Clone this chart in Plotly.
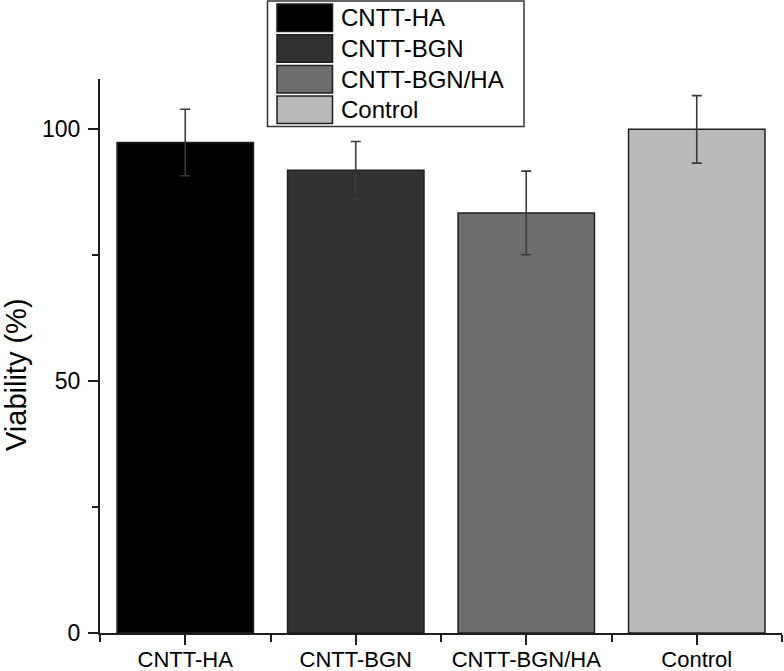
import plotly.graph_objects as go

categories = ["CNTT-HA", "CNTT-BGN", "CNTT-BGN/HA", "Control"]
viability = [97.4, 91.9, 83.4, 100.0]
errors = [6.6, 5.7, 8.3, 6.7]
colors = ["#000000", "#323232", "#6e6e6e", "#b9b9b9"]
y_ticks = [0, 50, 100]

W, H = 784, 671
L, R, T, B = 100, 2, 79, 38
PW, PH = W - L - R, H - T - B
FONT = "Liberation Sans, Arial, sans-serif"


def px(x):
    return (x - L) / PW


def py(y):
    return (H - B - y) / PH


fig = go.Figure()
for i, (cat, v, e, c) in enumerate(zip(categories, viability, errors, colors)):
    fig.add_trace(go.Bar(
        x=[i], y=[v], name=cat, width=0.8,
        marker=dict(color=c, line=dict(color="#1e1e1e", width=1.5)),
        error_y=dict(type="data", array=[e], visible=True, color="#3a3a3a",
                     thickness=1.6, width=5),
        showlegend=False,
    ))

shapes = []
annotations = []
# manual legend box
shapes.append(dict(type="rect", xref="paper", yref="paper",
                   x0=px(267.5), x1=px(524), y0=py(126.5), y1=py(1),
                   line=dict(color="#333333", width=1.5), fillcolor="white"))
row_top = 4
pitch = 30.7
for i, (cat, c) in enumerate(zip(categories, colors)):
    y0 = row_top + i * pitch
    y1 = y0 + 27.5
    shapes.append(dict(type="rect", xref="paper", yref="paper",
                       x0=px(277), x1=px(332.5), y0=py(y1), y1=py(y0),
                       line=dict(color="#1e1e1e", width=1.5), fillcolor=c))
    annotations.append(dict(xref="paper", yref="paper", x=px(339), y=py((y0 + y1) / 2),
                            text=cat, showarrow=False, xanchor="left", yanchor="middle",
                            font=dict(family=FONT, size=24, color="black")))

annotations.append(dict(xref="paper", yref="paper", x=px(16), y=py(375),
                        text="Viability (%)", textangle=-90, showarrow=False,
                        xanchor="center", yanchor="middle",
                        font=dict(family=FONT, size=29, color="black")))

fig.update_layout(
    width=W, height=H,
    margin=dict(l=L, r=R, t=T, b=B, pad=0, autoexpand=False),
    plot_bgcolor="white", paper_bgcolor="white",
    bargap=0.2,
    shapes=shapes, annotations=annotations,
    font=dict(family=FONT, color="black"),
)
fig.update_xaxes(
    automargin=False,
    range=[-0.5, 3.5], tickmode="array", tickvals=list(range(len(categories))),
    ticktext=categories, ticks="outside", ticklen=10, tickwidth=1.5, tickcolor="#1e1e1e",
    showline=True, linecolor="#1e1e1e", linewidth=2, showgrid=False, zeroline=False,
    tickfont=dict(family=FONT, size=22, color="black"), ticklabelstandoff=-4,
    minor=dict(tickmode="linear", tick0=-0.5, dtick=1, ticks="outside", ticklen=7,
               tickwidth=1.5, tickcolor="#1e1e1e", showgrid=False),
)
fig.update_yaxes(
    automargin=False,
    range=[0, 110], tickmode="array", tickvals=y_ticks,
    ticks="outside", ticklen=10, tickwidth=1.5, tickcolor="#1e1e1e",
    showline=True, linecolor="#1e1e1e", linewidth=2, showgrid=False, zeroline=False,
    tickfont=dict(family=FONT, size=23, color="black"), ticklabelstandoff=3,
    minor=dict(tickmode="linear", tick0=0, dtick=25, ticks="outside", ticklen=6,
               tickwidth=1.5, tickcolor="#1e1e1e", showgrid=False),
)

fig.write_html(
    "out.html",
    config={"displayModeBar": False},
    post_script="document.body.style.margin='0';document.body.style.overflow='hidden';",
)
